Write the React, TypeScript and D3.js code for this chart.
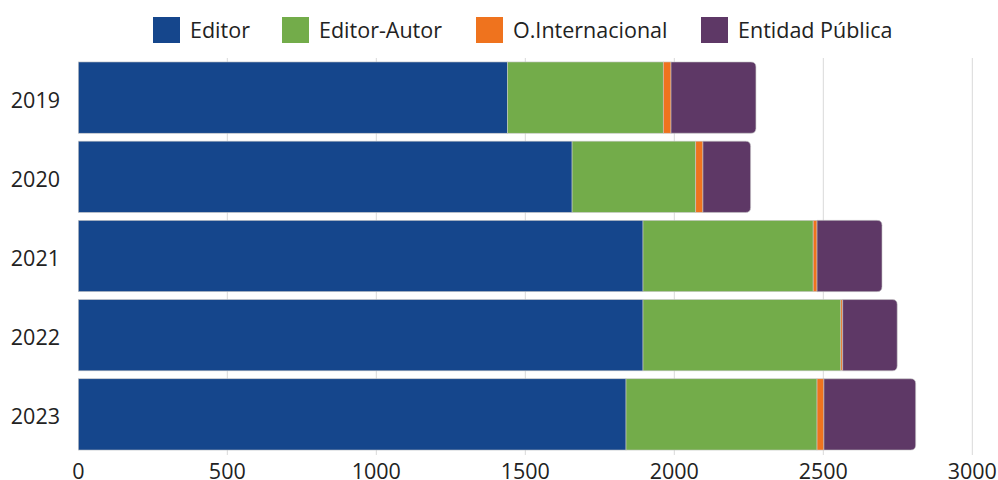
import React from "react";
import * as d3 from "d3";

const years = ["2019", "2020", "2021", "2022", "2023"];
const editor = [1440, 1657, 1895, 1895, 1838];
const editorAutor = [523, 415, 571, 664, 641];
const oInternacional = [26, 24, 13, 6, 23];
const entidadPublica = [285, 160, 218, 183, 308];
const seriesNames = ["Editor", "Editor-Autor", "O.Internacional", "Entidad Pública"];
const colors = ["#15468c", "#73ac4a", "#ef731e", "#5e3866"];
const xTicks = [0, 500, 1000, 1500, 2000, 2500, 3000];

const W = 998, H = 480;
const FONT = "'Open Sans', 'Noto Sans', sans-serif";
const FS = 21.5;

function roundedRight(x0: number, x1: number, y: number, h: number, r: number) {
  const rr = Math.min(r, (x1 - x0) / 2, h / 2);
  return `M${x0},${y}H${x1 - rr}Q${x1},${y} ${x1},${y + rr}V${y + h - rr}Q${x1},${y + h} ${x1 - rr},${y + h}H${x0}Z`;
}

export default function App() {
  const x = d3.scaleLinear().domain([0, 3000]).range([78.3, 972.3]);
  const y = d3.scaleBand<string>().domain(years).range([58, 454]).paddingInner(0.1).paddingOuter(0.05);
  const data = years.map((yr, i) => ({
    year: yr,
    vals: [editor[i], editorAutor[i], oInternacional[i], entidadPublica[i]],
  }));
  const stack = data.map((d) => {
    let acc = 0;
    return d.vals.map((v) => {
      const s = acc;
      acc += v;
      return [s, acc];
    });
  });
  const legendX = [153, 282, 476, 701];
  return (
    <svg width={W} height={H} style={{ position: "absolute", left: 0, top: 0, fontFamily: FONT }}>
      <rect width={W} height={H} fill="#fff" />
      {xTicks.filter((t) => t > 0).map((t) => (
        <line key={t} x1={x(t)} x2={x(t)} y1={58} y2={455} stroke="#d9d9d9" strokeWidth={1} />
      ))}
      {data.map((d, i) => {
        const yy = y(d.year)!;
        const bh = y.bandwidth();
        return (
          <g key={d.year}>
            {stack[i].map(([s, e], j) => {
              const x0 = x(s), x1 = x(e);
              if (j === 3) {
                return <path key={j} d={roundedRight(x0, x1, yy, bh, 5)} fill={colors[j]} stroke="#c8c8c8" strokeWidth={0.6} />;
              }
              return <rect key={j} x={x0} y={yy} width={x1 - x0} height={bh} fill={colors[j]} stroke="#c8c8c8" strokeWidth={0.6} />;
            })}
            <text x={60} y={yy + bh / 2 + 10} textAnchor="end" fontSize={FS} fill="#222">{d.year}</text>
          </g>
        );
      })}
      {xTicks.map((t) => (
        <text key={t} x={x(t)} y={479} textAnchor="middle" fontSize={FS} fill="#222">{t}</text>
      ))}
      {seriesNames.map((n, i) => (
        <g key={n}>
          <rect x={legendX[i]} y={17} width={27} height={26} fill={colors[i]} />
          <text x={legendX[i] + 37} y={38.3} fontSize={FS} fill="#222">{n}</text>
        </g>
      ))}
    </svg>
  );
}
